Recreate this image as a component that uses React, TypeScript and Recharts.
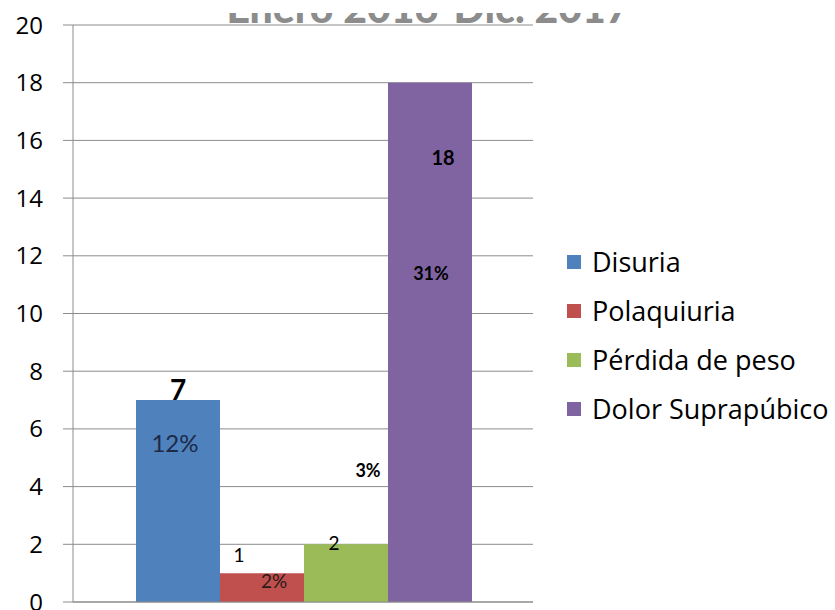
import React from "react";
import {
  BarChart,
  Bar,
  XAxis,
  YAxis,
  CartesianGrid,
  Legend,
  LabelList,
} from "recharts";

const categories = [""];
const seriesNames = ["Disuria", "Polaquiuria", "Pérdida de peso", "Dolor Suprapúbico"];
const seriesValues = [7, 1, 2, 18];
const seriesPercents = ["12%", "2%", "3%", "31%"];
const yTicks = [0, 2, 4, 6, 8, 10, 12, 14, 16, 18, 20];
const title = "Enero 2016-Dic. 2017";

const COLORS = ["#4f81bd", "#c0504d", "#9bbb59", "#8064a2"];
const FONT = "Lato, 'Open Sans', sans-serif";
const WIDE_FONT = "'Open Sans', Lato, sans-serif";

const data = categories.map((name) => {
  const row: any = { name };
  seriesNames.forEach((s, i) => {
    row[s] = seriesValues[i];
  });
  return row;
});

// label placement tweaks per series (Excel labels were dragged by hand)
const valueLabelStyle = [
  { dx: 0, dy: 0, size: 28, bold: true },
  { dx: 19, dy: -11, size: 19, bold: false },
  { dx: 30, dy: 6, size: 19, bold: false },
  { dx: 55, dy: 82, size: 20, bold: true },
];
const pctLabelStyle = [
  { dx: 39, dy: 52, size: 24, bold: false, fill: "#1c2a45" },
  { dx: 54, dy: 15, size: 19, bold: false, fill: "#2a1a1a" },
  { dx: 64, dy: -67, size: 18, bold: true, fill: "#000" },
  { dx: 43, dy: 197, size: 18, bold: true, fill: "#000" },
];

const makeLabel = (i: number, kind: "value" | "pct") => (props: any) => {
  const { x, y, width } = props;
  const st = kind === "value" ? valueLabelStyle[i] : pctLabelStyle[i];
  const cx = i === 0 && kind === "value" ? x + width / 2 : x + st.dx;
  const text = kind === "value" ? String(seriesValues[i]) : seriesPercents[i];
  return (
    <text
      x={cx}
      y={y + st.dy}
      textAnchor="middle"
      fontFamily={FONT}
      fontSize={st.size}
      fontWeight={st.bold ? 700 : 400}
      fill={(st as any).fill || "#000"}
    >
      {text}
    </text>
  );
};

const renderLegend = (props: any) => {
  const payload = [...(props.payload || [])].sort(
    (a: any, b: any) => seriesNames.indexOf(a.value) - seriesNames.indexOf(b.value)
  );
  return (
    <div style={{ fontFamily: WIDE_FONT }}>
      {payload.map((entry: any, i: number) => (
        <div
          key={`leg-${i}`}
          style={{ display: "flex", alignItems: "center", height: 49 }}
        >
          <span
            style={{
              width: 14,
              height: 14,
              background: entry.color,
              marginRight: 11,
              display: "inline-block",
            }}
          />
          <span style={{ fontSize: 27, color: "#000", whiteSpace: "nowrap" }}>
            {entry.value}
          </span>
        </div>
      ))}
    </div>
  );
};

export default function App() {
  return (
    <div
      style={{
        position: "absolute",
        left: 0,
        top: 0,
        width: 835,
        height: 610,
        background: "#fff",
        overflow: "hidden",
      }}
    >
      <svg
        width={835}
        height={610}
        style={{ position: "absolute", left: 0, top: 0 }}
      >
        <defs>
          <clipPath id="titleClip">
            <rect x={0} y={13} width={835} height={12} />
          </clipPath>
        </defs>
        <text
          x={428}
          y={23}
          textAnchor="middle"
          fontFamily={FONT}
          fontWeight={900}
          fontSize={41}
          fill="#8c8c8c"
          clipPath="url(#titleClip)"
        >
          {title}
        </text>
      </svg>
      <BarChart
        width={835}
        height={610}
        data={data}
        margin={{ top: 25, right: 34, bottom: 0, left: 0 }}
        barCategoryGap={63}
        barGap={0}
        style={{ position: "absolute", left: 0, top: 0 }}
      >
        <CartesianGrid vertical={false} stroke="#8c8c8c" />
        <XAxis
          dataKey="name"
          tick={false}
          height={8}
          stroke="#8c8c8c"
          tickSize={0}
        />
        <YAxis
          domain={[0, 20]}
          ticks={yTicks}
          width={73}
          stroke="#8c8c8c"
          tickSize={10}
          tickMargin={20}
          interval={0}
          tick={{ fill: "#000", fontSize: 24, fontFamily: WIDE_FONT }}
        />
        <Legend
          layout="vertical"
          align="right"
          verticalAlign="top"
          content={renderLegend}
          wrapperStyle={{ left: 567, top: 237, width: 268 }}
        />
        {seriesNames.map((s, i) => (
          <Bar
            key={s}
            dataKey={s}
            fill={COLORS[i]}
            isAnimationActive={false}
          >
            <LabelList dataKey={s} content={makeLabel(i, "value")} />
            <LabelList dataKey={s} content={makeLabel(i, "pct")} />
          </Bar>
        ))}
      </BarChart>
    </div>
  );
}
